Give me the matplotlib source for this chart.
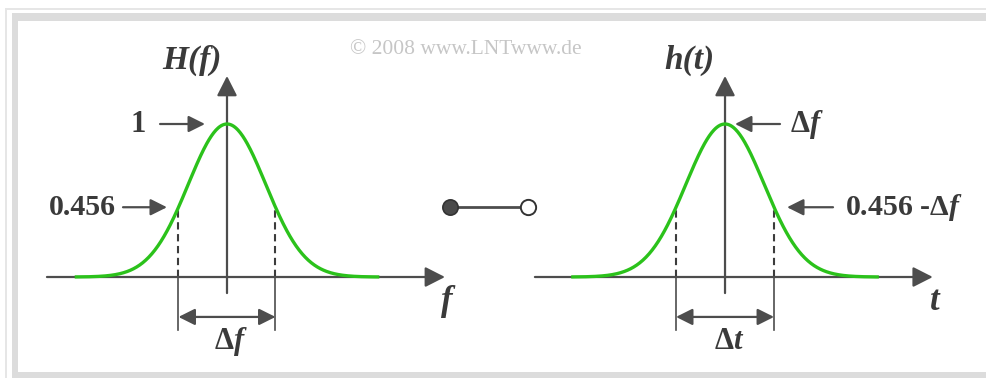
import numpy as np
import matplotlib.pyplot as plt
from matplotlib.patches import Rectangle

plt.rcParams['font.family'] = 'Liberation Serif'
plt.rcParams['font.weight'] = 'bold'
plt.rcParams['mathtext.fontset'] = 'custom'
plt.rcParams['mathtext.rm'] = 'Liberation Serif:bold'
plt.rcParams['mathtext.it'] = 'Liberation Serif:italic:bold'
plt.rcParams['mathtext.bf'] = 'Liberation Serif:bold'

# Gaussian low-pass: H(f) = exp(-pi (f/df)^2), h(t) = df * exp(-pi (t/dt)^2)
peak = 1.0
level = 0.456          # value at +-df/2
width = 1.0            # equivalent bandwidth df (and duration dt)
span = 1.57            # plotted range in units of width

GREEN = '#2bc21b'
GRAY = '#4d4d4d'
TEXT = '#3a3a3a'

x = np.linspace(-span, span, 400)
curve = peak * np.exp(-np.pi * (x / width) ** 2)
half = width / 2

fig = plt.figure(figsize=(9.87, 3.78), dpi=100)

# light grey frame around the drawing
W, H = 987, 378
def frame_rect(x0, y0, w, h, color):
    fig.patches.append(Rectangle((x0 / W, 1 - (y0 + h) / H), w / W, h / H,
                                 transform=fig.transFigure, color=color, lw=0, zorder=0))
frame_rect(5, 8, 982, 2, '#e6e6e6')
frame_rect(5, 8, 2, 370, '#e6e6e6')
frame_rect(12, 13, 975, 8, '#dcdcdc')
frame_rect(12, 13, 6, 365, '#dcdcdc')
frame_rect(12, 372, 975, 6, '#dcdcdc')

fig.text(466 / W, 1 - 50 / H, '© 2008 www.LNTwww.de', color='#c6c6c6',
         fontsize=15.5, fontweight='normal', ha='center', va='center')

ylim = (-0.6078, 1.6667)
ax_l = fig.add_axes([20 / W, 8 / H, 540 / W, 348 / H])
ax_l.set_xlim(-2.134, 3.433)
ax_r = fig.add_axes([560 / W, 8 / H, 425 / W, 348 / H])
ax_r.set_xlim(-1.684, 2.653)
for ax in (ax_l, ax_r):
    ax.set_ylim(*ylim)
    ax.axis('off')
    ax.patch.set_alpha(0)

head = dict(arrowstyle='-|>,head_length=0.55,head_width=0.28', color=GRAY, lw=1.6,
            shrinkA=0, shrinkB=0, mutation_scale=22)
small = dict(arrowstyle='-|>,head_length=0.5,head_width=0.25', color=GRAY, lw=1.6,
             shrinkA=0, shrinkB=0, mutation_scale=20)
both = dict(arrowstyle='<|-|>,head_length=0.5,head_width=0.25', color=GRAY, lw=1.6,
            shrinkA=0, shrinkB=0, mutation_scale=20)


def draw_panel(ax, xaxis, var, ylab, dlab):
    # axes with arrow heads
    ax.annotate('', xy=(xaxis[1], 0), xytext=(xaxis[0], 0), arrowprops=head)
    ax.annotate('', xy=(0, 1.314), xytext=(0, -0.105), arrowprops=head)
    # curve
    ax.plot(x, curve, color=GREEN, lw=2.4, zorder=3, solid_capstyle='butt')
    # dashed markers at +-width/2 and dimension line
    for s in (-half, half):
        ax.plot([s, s], [0, level], ls=(0, (3.5, 2.2)), color='#3c3c3c', lw=1.5)
        ax.plot([s, s], [0, -0.346], color=GRAY, lw=1.2)
    ax.annotate('', xy=(half, -0.261), xytext=(-half, -0.261), arrowprops=both)
    ax.text(0.04, -0.42, dlab, fontsize=22, color=TEXT, ha='center', va='center')
    ax.text(-0.36, 1.418, ylab, fontsize=24, color=TEXT, ha='center', va='center',
            style='italic')
    ax.text(xaxis[1] + 0.02, -0.16, var, fontsize=25, color=TEXT, ha='center',
            va='center', style='italic')


draw_panel(ax_l, (-1.856, 2.247), 'f', 'H(f)', r'$\Delta f$')
draw_panel(ax_r, (-1.94, 2.12), 't', 'h(t)', r'$\Delta t$')

# labels on the left panel
ax_l.annotate('', xy=(-0.227, peak), xytext=(-0.69, peak), arrowprops=small)
ax_l.text(-0.84, peak, '1', fontsize=22, color=TEXT, ha='right', va='center')
ax_l.annotate('', xy=(-0.619, level), xytext=(-1.072, level), arrowprops=small)
ax_l.text(-1.15, level, '0.456', fontsize=21.5, color=TEXT, ha='right', va='center')

# labels on the right panel
ax_r.annotate('', xy=(0.102, peak), xytext=(0.561, peak), arrowprops=small)
ax_r.text(0.66, peak, r'$\Delta f$', fontsize=22, color=TEXT, ha='left', va='center')
ax_r.annotate('', xy=(0.633, level), xytext=(1.102, level), arrowprops=small)
ax_r.text(1.22, level, r'0.456 -$\Delta f$', fontsize=21.5, color=TEXT, ha='left', va='center')

# correspondence symbol between the two panels
ax_l.plot([2.299, 3.103], [level, level], color=GRAY, lw=2, clip_on=False)
ax_l.plot([2.299], [level], 'o', ms=11, mfc='#4a4a4a', mec='#333333', mew=1.2, clip_on=False)
ax_l.plot([3.103], [level], 'o', ms=11, mfc='white', mec='#333333', mew=1.4, clip_on=False)

fig.savefig('out.png', dpi=100)
